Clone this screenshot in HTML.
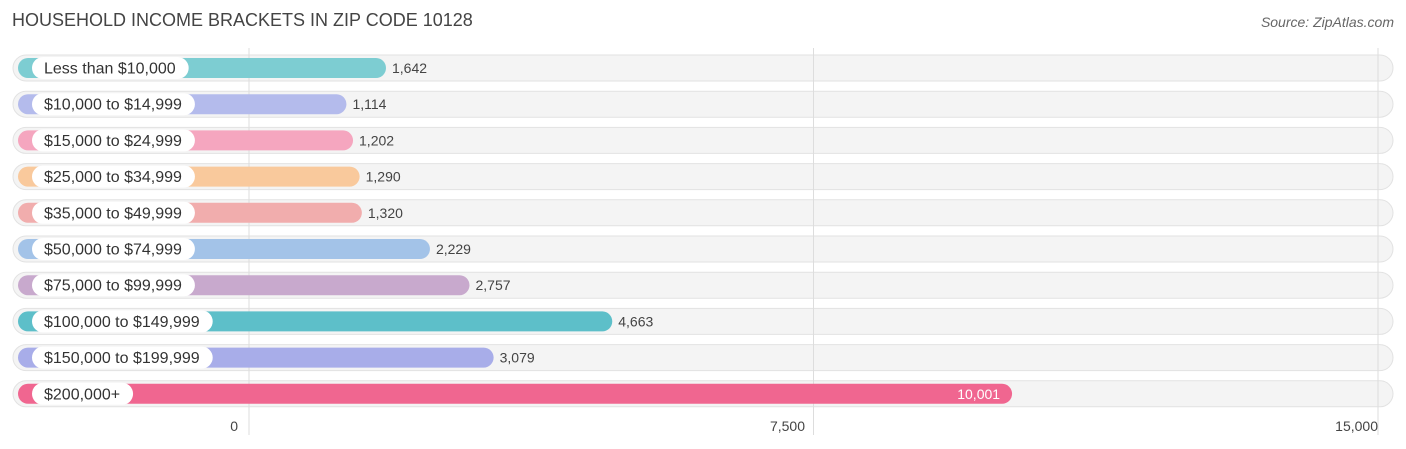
<!DOCTYPE html>
<html><head><meta charset="utf-8"><style>
body{margin:0;width:1406px;height:449px;background:#fff;font-family:"Liberation Sans",sans-serif;position:relative;overflow:hidden}
.t{position:absolute;left:12px;top:10px;font-size:18px;color:#444}
.s{position:absolute;right:12px;top:14px;font-size:14px;color:#666;font-style:italic}
</style></head><body>
<div class="t">HOUSEHOLD INCOME BRACKETS IN ZIP CODE 10128</div>
<div class="s">Source: ZipAtlas.com</div>
<svg id="c" width="1406" height="449" style="position:absolute;left:0;top:0"></svg>
<script>
const categories=["Less than $10,000","$10,000 to $14,999","$15,000 to $24,999","$25,000 to $34,999","$35,000 to $49,999","$50,000 to $74,999","$75,000 to $99,999","$100,000 to $149,999","$150,000 to $199,999","$200,000+"];
const values=[1642,1114,1202,1290,1320,2229,2757,4663,3079,10001];
const tickValues=[0,7500,15000];
const tickLabels=["0","7,500","15,000"];
const colors=["#7dcdd2","#b4bbec","#f5a6bf","#f9c99c","#f1adad","#a3c3e8","#c8a9cd","#5dbfc9","#a8ade9","#f06690"];
const NS="http://www.w3.org/2000/svg";
const svg=document.getElementById('c');
function gx(v){return 249+v*(1378-249)/15000;}
function bx(v){return 263+v*0.0749;}
function rowY(i){return 68+i*36.2;}
function mk(t,a){const e=document.createElementNS(NS,t);for(const k in a)e.setAttribute(k,a[k]);svg.appendChild(e);return e;}
categories.forEach((c,i)=>{
 const y=rowY(i);
 const bg=mk('rect',{x:13,y:y-13,width:1380,height:26,rx:13,fill:'#f4f4f4',stroke:'#e2e2e2'});
 
 
});
tickValues.forEach((v,i)=>{
 const l=mk('line',{x1:gx(v),x2:gx(v),y1:48,y2:435,stroke:'#ddd'});
 
 
 const t=mk('text',{x:gx(v)-(i==2?0:11),y:431,'font-size':14,fill:'#444','text-anchor':i==0?'end':(i==2?'end':'middle')});
 if(i==1)t.setAttribute('x',gx(v)-26);
 t.textContent=tickLabels[i];
 
 
});
categories.forEach((c,i)=>{
 const y=rowY(i),v=values[i],end=bx(v);
 const b=mk('rect',{x:18,y:y-10,width:end-18,height:20,rx:10,fill:colors[i]});
 
 
 const lt=mk('text',{x:44,y:y+5.5,'font-size':16,fill:'#333'});
 lt.textContent=c;
 const w=lt.getComputedTextLength();
 const p=mk('rect',{x:32,y:y-11,width:w+25,height:22,rx:11,fill:'#fff'});
 
 
 svg.appendChild(lt);
 
 
 const inside=v>8000;
 const vt=mk('text',{x:inside?end-12:end+6,y:y+5,'font-size':14,fill:inside?'#fff':'#444','text-anchor':inside?'end':'start'});
 vt.textContent=v.toLocaleString('en-US');
 
 
});
</script>
</body></html>
